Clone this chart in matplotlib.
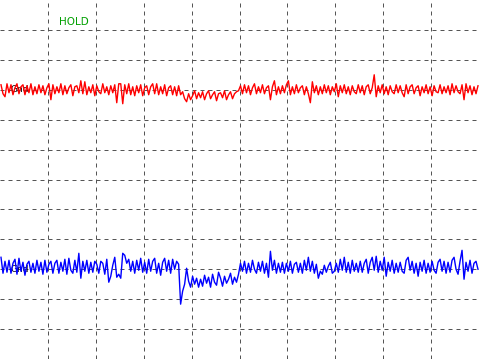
import numpy as np
import matplotlib
matplotlib.use("Agg")
import matplotlib.pyplot as plt

# scope settings (10 x 12 divisions, 30 mV/div, 24 samples/div)
mv_per_div = 30.0
samples_per_div = 24
red_gnd = 9.0
blue_gnd = 3.0

# channel 1 (red) samples in mV
red = [
    5, -4, -7, 6, -3, 5, -5, 2, 6, -4, 3, 5, -5, 4, -3, 6, -5, 3, -4, 5,
    -3, 4, -5, 2, 6, -10, 5, -4, 3, -3, 6, -5, 4, -4, 2, 5, -6, 3, 4, -3,
    9, -4, 8, -5, 3, -3, 5, -6, 4, -2, -4, 6, -3, 3, -5, 4, -3, 5, -13, 6,
    6, -14, 5, -4, 6, -5, 3, -6, 4, -3, 5, -6, 2, 4, -5, 3, 6, -4, 6, -5,
    3, -4, 5, -6, 2, 4, -5, 3, -6, 4, -5, -2, -9, -12, -4, -10, -6, -1, -9, -3,
    -8, -2, -10, -4, -1, -9, -5, -2, -11, -4, -3, -8, -1, -10, -5, -2, -9, -4, -2, -1,
    4, -4, 5, -3, 4, -5, 2, 6, -4, 3, -3, 5, -4, 2, 4, -10, 3, 9, -5, 3,
    -4, 4, -3, 5, 9, -5, 3, -4, 5, -3, 2, 4, -5, 3, -4, -13, 8, -3, 4, -5,
    3, -4, 5, -3, 4, -5, 3, -2, 6, -7, 4, -3, 5, -4, 3, -5, 4, -2, -4, 5,
    -3, 4, -5, 3, 5, -4, 2, 15, -7, 4, -3, 5, -4, 3, -5, 4, -2, -4, 5, -3,
    4, -3, -7, 5, -4, 3, 5, -4, 2, 4, -6, 3, -3, 5, -4, 3, -6, 4, -2, -3,
    5, -4, 3, -3, 4, -5, 6, -3, 4, -2, -4, 5, -10, 6, -3, 4, -5, 3, -4, 4,
]

# channel 2 (blue) samples in mV
blue = [
    12, -4, 8, -3, 9, -4, 6, 10, -5, 11, -2, 7, -6, 5, 8, -3, 6, -4, 9, -2,
    7, -5, 9, -3, 5, 8, -4, 6, 9, -4, 7, -2, 10, -5, 11, -1, -4, 9, -3, 16,
    -9, 8, -2, 9, -4, 7, -3, 8, 5, -4, 8, 6, -5, 10, -13, -7, 4, 12, -8, -5,
    -9, 16, 14, 6, 10, -2, 8, -4, 9, -1, 11, -3, 7, -4, 10, -2, 8, 11, -4, 6,
    -6, 7, 11, -2, 9, -4, 10, 0, 8, 5, -35, -22, -15, 1, -12, -18, -7, -15, -9, -18,
    -10, -17, -6, -14, -8, -18, -5, -13, -16, -3, -9, -17, -7, -14, -10, -4, -15, -8, -13, -5,
    6, -2, 8, -4, 6, -3, 9, 0, -4, 7, -2, 8, -4, 6, -8, 18, -1, 9, -4, 6,
    -3, 7, -4, 6, -2, 8, -4, 5, 7, -3, 6, -4, 9, -1, 12, -2, 8, -4, 5, -9,
    -2, -5, 4, -3, 3, 7, -4, -2, 6, -3, 10, -1, 12, -3, 7, -4, 9, -2, 6, -3,
    8, -3, 6, 10, -4, 7, 12, -1, 13, -3, 8, -1, 12, -7, 7, -2, 9, -4, 6, -3,
    7, -2, -4, 9, 12, -1, 8, -4, 6, -7, 7, -2, 9, -4, 6, -3, 8, -1, -4, 7,
    10, -2, 8, -4, 7, -3, 9, 12, 0, -5, 8, 19, -10, 7, -2, 9, -4, 6, 8, 0,
]

t = (np.arange(len(red)) + 0.5) / samples_per_div

fig = plt.figure(figsize=(4.79, 3.59), dpi=100)
ax = fig.add_axes([0, 0, 1, 1])
ax.set_xlim(0, 10)
ax.set_ylim(0, 12)

# dashed graticule
for gx in range(1, 10):
    ax.axvline(gx, color="#555555", lw=0.72, ls=(0, (4, 4)), zorder=1)
for gy in range(1, 12):
    ax.axhline(gy, color="#555555", lw=0.72, ls=(0, (4, 4)), zorder=1)

ax.text(0.21, red_gnd, "Gnd", fontsize=6.5, color="black", ha="left", va="center", zorder=2)
ax.text(0.21, blue_gnd, "Gnd", fontsize=6.5, color="black", ha="left", va="center", zorder=2)

ax.plot(t, red_gnd + np.array(red) / mv_per_div, color="#ff0000", lw=1.0, zorder=3)
ax.plot(t, blue_gnd + np.array(blue) / mv_per_div, color="#0000ff", lw=1.0, zorder=3)

ax.text(1.23, 11.27, "HOLD", fontsize=7.5, color="#00a000", ha="left", va="center")

ax.set_xticks([])
ax.set_yticks([])
for s in ax.spines.values():
    s.set_visible(False)

fig.savefig("out.png", dpi=100)
